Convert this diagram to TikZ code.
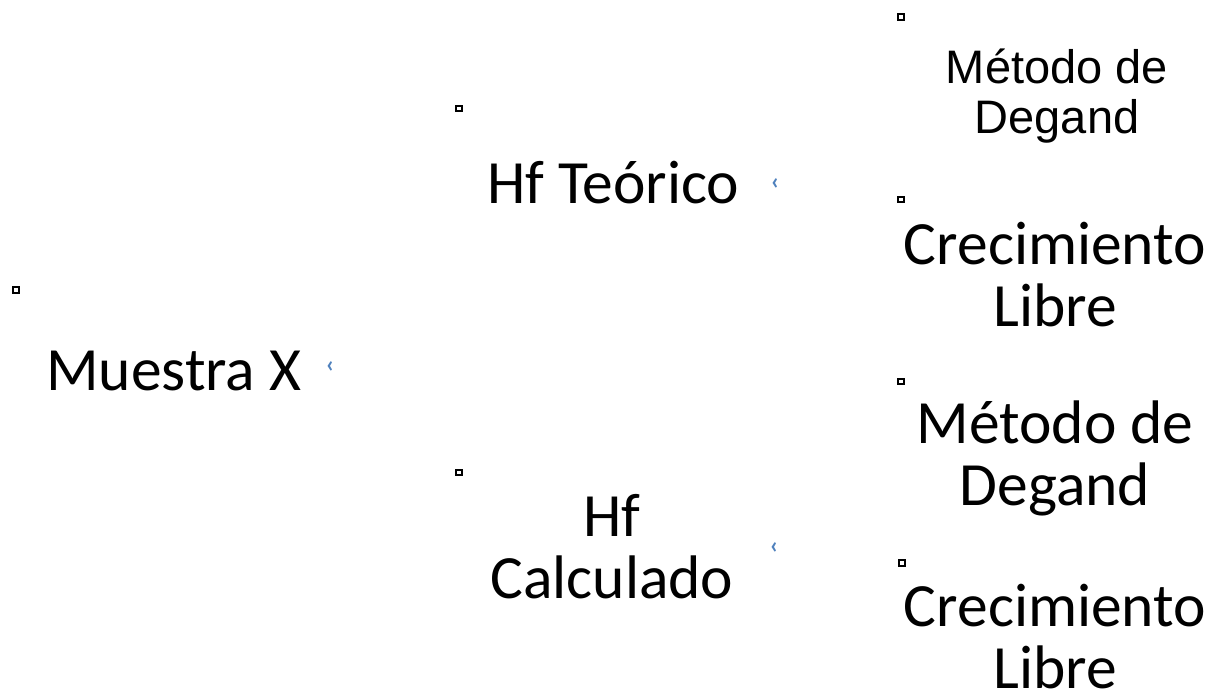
\documentclass[tikz,border=0pt]{standalone}
\usepackage{fontspec}
\setmainfont{Carlito}
\newfontfamily\arialfont{Liberation Sans}
\definecolor{markblue}{RGB}{79,129,189}
\tikzset{
  label/.style={inner sep=0pt, align=center, font=\fontsize{61.5}{62}\selectfont},
  arial/.style={inner sep=0pt, align=center, font=\arialfont\fontsize{47}{50}\selectfont},
  bullet/.style={draw=black, line width=2.2pt, minimum size=5.6pt, inner sep=0pt, rectangle},
  chev/.style={inner sep=0pt, text=markblue, font=\bfseries\fontsize{24}{24}\selectfont}
}
\begin{document}
\begin{tikzpicture}[x=1pt, y=-1pt]
  \useasboundingbox (0,0) rectangle (1219,694);
  % root
  \node[bullet] (b0) at (16,290) {};
  \node[label, anchor=base west] (muestra) at (46,390) {Muestra X};
  \node[chev] (c0) at (330,367) {‹};
  % second level
  \node[bullet] (b1) at (459,108.5) {};
  \node[label, anchor=base west] (teorico) at (487,203) {Hf Teórico};
  \node[chev] (c1) at (775,184) {‹};
  \node[bullet] (b2) at (459,472.5) {};
  \node[label, anchor=base] (calculado) at (612,598) {Hf\\Calculado};
  \node[chev] (c2) at (774,548) {‹};
  % leaves (multi-line labels are anchored at the baseline of their last line)
  \node[bullet] (b3) at (901,17) {};
  \node[arial, anchor=base] (degand1) at (1057,133) {Método de\\Degand};
  \node[bullet] (b4) at (901,199.5) {};
  \node[label, anchor=base] (libre1) at (1055,326) {Crecimiento\\Libre};
  \node[bullet] (b5) at (901,381.5) {};
  \node[label, anchor=base] (degand2) at (1055,505) {Método de\\Degand};
  \node[bullet] (b6) at (902,563) {};
  \node[label, anchor=base] (libre2) at (1055,688) {Crecimiento\\Libre};
\end{tikzpicture}
\end{document}
